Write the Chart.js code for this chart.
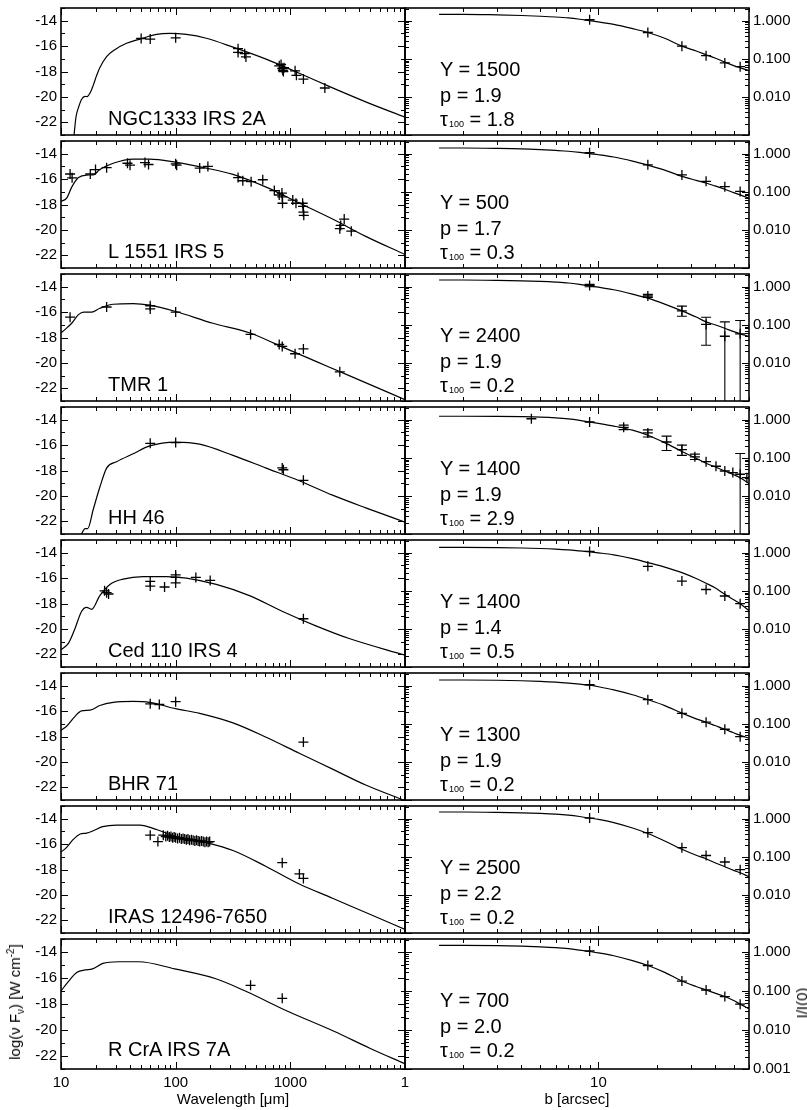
<!DOCTYPE html>
<html><head><meta charset="utf-8">
<script src="https://cdn.jsdelivr.net/npm/chart.js@4.4.1/dist/chart.umd.min.js"></script>
<style>
html,body{margin:0;padding:0;background:#fff;}
#wrap{position:relative;width:807px;height:1110px;overflow:hidden;font-family:"Liberation Sans",Arial,Helvetica,sans-serif;color:#000;}
#wrap canvas{position:absolute;}
.lbl{position:absolute;font-size:20px;line-height:20px;white-space:nowrap;}
.sub{font-size:9px;vertical-align:-1px;margin-left:1px;}
.ytitle{position:absolute;font-size:15px;line-height:18px;white-space:nowrap;transform:translate(-50%,-50%) rotate(-90deg);}
.ytitle sub,.ytitle sup{font-size:10px;}
</style></head><body><div id="wrap"></div>
<script>
// ---------- labels ----------
const sourceNames = ["NGC1333 IRS 2A","L 1551 IRS 5","TMR 1","HH 46","Ced 110 IRS 4","BHR 71","IRAS 12496-7650","R CrA IRS 7A"];
const yParam = ["1500","500","2400","1400","1400","1300","2500","700"];
const pParam = ["1.9","1.7","1.9","1.9","1.4","1.9","2.2","2.0"];
const tauParam = ["1.8","0.3","0.2","2.9","0.5","0.2","0.2","0.2"];

// ---------- SED data (wavelength um, log nuFnu) ----------
const obsLam1 = [50,60,100,350,350,400,410,800,830,850,860,870,880,1100,1130,1300,2000];
const obsF1   = [-15.4,-15.45,-15.35,-16.2,-16.5,-16.6,-16.85,-17.55,-17.45,-17.75,-17.9,-18.0,-17.7,-17.95,-18.3,-18.6,-19.3];
const modLam1 = [13,13.5,14.2,15.1,16.2,16.9,17.9,19.1,20.4,21.8,25,29.5,37.3,48.7,68,89,124,185,316,615,1197,2334,4545,10000];
const modF1   = [-23,-21.6,-20.84,-20.2,-19.96,-19.98,-19.7,-19.09,-18.34,-17.7,-16.83,-16.28,-15.78,-15.45,-15.08,-15.0,-15.08,-15.38,-16.08,-17.03,-18.14,-19.29,-20.39,-21.6];

const obsLam2 = [12,12.5,18,20,25,38,40,54,58,100,102,162,191,350,385,455,575,725,800,845,850,855,1050,1120,1280,1290,1300,1310,2700,2750,2950,3400];
const obsF2   = [-15.6,-15.9,-15.6,-15.25,-15.1,-14.75,-14.9,-14.7,-14.85,-14.8,-14.9,-15.13,-15.0,-15.88,-16.13,-16.2,-16.05,-16.9,-17.25,-17.1,-17.4,-17.9,-17.65,-17.9,-17.9,-18.15,-18.6,-18.85,-19.9,-19.65,-19.15,-20.1];
const modLam2 = [10,11.2,12.4,14.2,16.7,19.1,21.8,28.5,42.6,59.4,101,185,316,615,1197,2334,4545,10000];
const modF2   = [-17.76,-17.5,-16.63,-15.88,-15.68,-15.67,-15.25,-14.75,-14.42,-14.42,-14.68,-15.13,-15.63,-16.63,-17.88,-19.14,-20.51,-21.94];

const obsLam3 = [12,25,60,60,100,450,800,850,1100,1300,2700];
const obsF3   = [-16.4,-15.6,-15.5,-15.75,-16.0,-17.76,-18.55,-18.7,-19.28,-18.9,-20.7];
const modLam3 = [10,10.8,12.4,14.2,15.8,18.5,21.8,28.5,42.6,59.4,100,211,440,857,1670,3260,10000];
const modF3   = [-17.63,-17.38,-16.88,-16.2,-16.0,-16.0,-15.7,-15.38,-15.33,-15.45,-15.95,-16.88,-17.63,-18.76,-19.88,-21.0,-22.9];

const obsLam4 = [60,100,850,870,1300];
const obsF4   = [-15.86,-15.8,-17.8,-17.94,-18.77];
const modLam4 = [15.1,16.2,17.1,19.1,21.8,25,30.5,42.6,59.4,100,162,316,615,1197,2334,4545,10000];
const modF4   = [-23.0,-22.57,-22.57,-21.07,-19.32,-17.81,-17.31,-16.68,-16.06,-15.76,-15.93,-16.81,-17.81,-18.81,-19.94,-20.94,-22.07];

const obsLam5 = [24,25,26,60,60,80,100,100,100,150,200,1300];
const obsF5   = [-17.0,-17.15,-17.25,-16.25,-16.63,-16.7,-15.75,-15.95,-16.38,-15.95,-16.18,-19.2];
const modLam5 = [10,11.6,13.2,15.1,16.7,18.5,21.8,26.7,34.8,52,83,124,226,440,857,1670,3260,10000];
const modF5   = [-21.64,-21.14,-20.0,-18.63,-18.3,-18.46,-17.38,-16.5,-16.08,-15.88,-15.88,-16.0,-16.5,-17.38,-18.63,-19.76,-20.76,-22.07];

const obsLam6 = [60,72,100,1300];
const obsF6   = [-15.43,-15.48,-15.26,-18.44];
const modLam6 = [10,11.2,13.2,15.1,17.9,21.8,28.5,42.6,59.4,100,162,316,615,1197,2334,4545,10000];
const modF6   = [-17.51,-17.19,-16.43,-15.98,-15.93,-15.56,-15.31,-15.23,-15.31,-15.81,-16.18,-16.93,-18.06,-19.32,-20.57,-21.82,-23.05];

const obsLam7 = [60,70,78,82,85,88,91,94,97,100,104,108,112,116,120,124,128,132,137,142,147,152,157,162,168,174,180,186,192,198,850,1200,1300];
const obsF7   = [-15.3,-15.8,-15.3,-15.4,-15.35,-15.45,-15.4,-15.5,-15.45,-15.5,-15.55,-15.5,-15.6,-15.55,-15.6,-15.65,-15.6,-15.7,-15.65,-15.7,-15.75,-15.7,-15.75,-15.8,-15.75,-15.8,-15.85,-15.8,-15.85,-15.8,-17.46,-18.35,-18.7];
const modLam7 = [10,11.2,12.8,14.7,16.7,19.1,23.1,30.5,48.7,69,100,185,316,615,1197,2334,4545,10000];
const modF7   = [-16.63,-16.26,-15.63,-15.2,-15.13,-14.95,-14.62,-14.5,-14.5,-14.87,-15.38,-15.88,-16.5,-17.76,-19.14,-20.26,-21.39,-22.72];

const obsLam8 = [450,850];
const obsF8   = [-16.56,-17.56];
const modLam8 = [10,11.2,13.8,16.2,18.8,23.2,31.5,47.6,98,224,418,948,2400,4930,10000];
const modF8   = [-17.0,-16.43,-15.56,-15.38,-15.3,-14.88,-14.75,-14.75,-15.3,-16.06,-17.06,-18.56,-20.1,-21.4,-22.6];

// ---------- Radial profiles (b arcsec, I/I(0)) ----------
const bObs   = [9,18,27,36,45,54];
const bObsHH = [4.5,9,13.5,18,22.5,27,31.5,36,40.5,45,49.5,54,58.5];
const po1 = [1.06,0.49,0.215,0.121,0.078,0.062];
const po2 = [1.06,0.51,0.277,0.188,0.136,0.102];
const po3 = [1.08,0.57,0.232,0.102,0.050,0.058];
const po4 = [1.06,0.87,0.63,0.45,0.26,0.164,0.106,0.079,0.060,0.045,0.041,0.037,0.030];
const po5 = [1.08,0.44,0.18,0.108,0.073,0.046];
const po6 = [1.06,0.43,0.188,0.11,0.072,0.046];
const po7 = [1.04,0.43,0.174,0.108,0.073,0.046];
const po8 = [1.06,0.45,0.18,0.106,0.072,0.046];
const errLo3 = [1.0,0.52,0.168,0.029,0.0001,0.0001];
const errHi3 = [1.15,0.63,0.31,0.158,0.119,0.13];
const errLo4 = [null,null,0.55,0.35,0.155,0.116,0.09,null,null,null,null,0.0001,null];
const errHi4 = [null,null,0.72,0.54,0.37,0.215,0.125,null,null,null,null,0.13,null];

const bModel = [1.5,2,3,4,5,6,7,8,9,10,12,15,18,22,27,32,36,40,45,50,54,60];
const pm1 = [1.47,1.47,1.42,1.37,1.31,1.25,1.18,1.09,1.0,0.93,0.80,0.62,0.49,0.345,0.215,0.16,0.128,0.105,0.082,0.066,0.058,0.049];
const pm2 = [1.41,1.41,1.38,1.34,1.28,1.22,1.16,1.08,1.0,0.94,0.82,0.64,0.50,0.37,0.255,0.20,0.17,0.143,0.117,0.095,0.083,0.068];
const pm3 = [1.5,1.5,1.47,1.43,1.38,1.32,1.25,1.15,1.05,0.97,0.83,0.64,0.50,0.35,0.232,0.16,0.119,0.10,0.081,0.066,0.058,0.050];
const pm4 = [1.23,1.23,1.22,1.20,1.17,1.12,1.05,0.96,0.87,0.80,0.68,0.53,0.39,0.25,0.147,0.097,0.072,0.058,0.045,0.036,0.030,0.021];
const pm5 = [1.38,1.38,1.36,1.33,1.29,1.24,1.18,1.11,1.05,0.99,0.88,0.70,0.55,0.42,0.30,0.21,0.158,0.12,0.081,0.058,0.046,0.030];
const pm6 = [1.41,1.41,1.39,1.35,1.30,1.24,1.17,1.10,1.03,0.94,0.78,0.58,0.43,0.30,0.19,0.135,0.11,0.09,0.072,0.058,0.05,0.042];
const pm7 = [1.5,1.5,1.47,1.43,1.38,1.32,1.24,1.14,1.04,0.96,0.79,0.57,0.41,0.26,0.158,0.11,0.089,0.07,0.055,0.044,0.038,0.030];
const pm8 = [1.47,1.47,1.45,1.41,1.36,1.30,1.22,1.12,1.03,0.95,0.80,0.60,0.45,0.30,0.18,0.13,0.106,0.088,0.072,0.057,0.046,0.035];

// ---------- tick values ----------
const sedXLabels = [10,100,1000];
const sedXMajor = [10,100,1000,10000];
const sedXMinor = [20,30,40,50,60,70,80,90,200,300,400,500,600,700,800,900,2000,3000,4000,5000,6000,7000,8000,9000];
const sedYLabels = [-22,-20,-18,-16,-14];
const sedYMinor = [-23,-21,-19,-17,-15,-13];
const profXLabels = [1,10];
const profXMinor = [2,3,4,5,6,7,8,9,20,30,40,50,60];
const profYLabels = [0.01,0.1,1];
const profYLabelsBottom = [0.001,0.01,0.1,1];
const profYMajor = [0.001,0.01,0.1,1];
const profYMinor = [0.002,0.003,0.004,0.005,0.006,0.007,0.008,0.009,0.02,0.03,0.04,0.05,0.06,0.07,0.08,0.09,0.2,0.3,0.4,0.5,0.6,0.7,0.8,0.9,2];

// ---------- assemble ----------
const obsLam = [obsLam1,obsLam2,obsLam3,obsLam4,obsLam5,obsLam6,obsLam7,obsLam8];
const obsF = [obsF1,obsF2,obsF3,obsF4,obsF5,obsF6,obsF7,obsF8];
const modLam = [modLam1,modLam2,modLam3,modLam4,modLam5,modLam6,modLam7,modLam8];
const modF = [modF1,modF2,modF3,modF4,modF5,modF6,modF7,modF8];
const profB = [bObs,bObs,bObs,bObsHH,bObs,bObs,bObs,bObs];
const profO = [po1,po2,po3,po4,po5,po6,po7,po8];
const profM = [pm1,pm2,pm3,pm4,pm5,pm6,pm7,pm8];
const profErr = [null,null,{lo:errLo3,hi:errHi3},{lo:errLo4,hi:errHi4},null,null,null,null];

Chart.defaults.font.family = '"Liberation Sans", Arial, Helvetica, sans-serif';
Chart.defaults.font.size = 15;
Chart.defaults.color = '#000';

const zip = (xs, ys) => xs.map((x, k) => ({x, y: ys[k]}));

const frameTicks = {
  id: 'frameTicks',
  afterDatasetsDraw(chart, args, o) {
    const {ctx, chartArea: a, scales: {x, y}} = chart;
    ctx.save();
    ctx.strokeStyle = '#000';
    ctx.lineWidth = 1;
    ctx.beginPath();
    const xt = (vals, len) => vals.forEach(v => {
      const p = Math.round(x.getPixelForValue(v)) + 0.5;
      if (p < a.left - 1 || p > a.right + 1) return;
      ctx.moveTo(p, a.bottom); ctx.lineTo(p, a.bottom - len);
      ctx.moveTo(p, a.top); ctx.lineTo(p, a.top + len);
    });
    const yt = (vals, len) => vals.forEach(v => {
      const p = Math.round(y.getPixelForValue(v)) + 0.5;
      if (p < a.top - 1 || p > a.bottom + 1) return;
      ctx.moveTo(a.left, p); ctx.lineTo(a.left + len, p);
      ctx.moveTo(a.right, p); ctx.lineTo(a.right - len, p);
    });
    xt(o.xMaj, 7); xt(o.xMin, 4); yt(o.yMaj, 7); yt(o.yMin, 4);
    ctx.stroke();
    ctx.lineWidth = 1.6;
    ctx.strokeRect(a.left, a.top, a.right - a.left, a.bottom - a.top);
    ctx.restore();
  }
};

const errBars = {
  id: 'errBars',
  afterDatasetsDraw(chart, args, o) {
    if (!o || !o.b) return;
    const {ctx, chartArea: a, scales: {x, y}} = chart;
    ctx.save();
    ctx.beginPath(); ctx.rect(a.left, a.top, a.right - a.left, a.bottom - a.top); ctx.clip();
    ctx.strokeStyle = '#000'; ctx.lineWidth = 1.1;
    ctx.beginPath();
    o.b.forEach((b, k) => {
      if (o.lo[k] == null) return;
      const px = x.getPixelForValue(b);
      const y1 = Math.min(y.getPixelForValue(o.lo[k]), a.bottom + 5);
      const y2 = y.getPixelForValue(o.hi[k]);
      ctx.moveTo(px, y1); ctx.lineTo(px, y2);
      ctx.moveTo(px - 5, y1); ctx.lineTo(px + 5, y1);
      ctx.moveTo(px - 5, y2); ctx.lineTo(px + 5, y2);
    });
    ctx.stroke();
    ctx.restore();
  }
};

const wrap = document.getElementById('wrap');
function mkCanvas(left, top, w, h) {
  const c = document.createElement('canvas');
  c.width = w; c.height = h;
  c.style.left = left + 'px'; c.style.top = top + 'px';
  c.style.width = w + 'px'; c.style.height = h + 'px';
  wrap.appendChild(c);
  return c;
}
function addDiv(cls, left, top, html) {
  const d = document.createElement('div');
  d.className = cls; d.style.left = left + 'px'; d.style.top = top + 'px';
  d.innerHTML = html; wrap.appendChild(d);
}

const PANEL_H = 133;
const T = i => 5 + PANEL_H * i;

for (let i = 0; i < 8; i++) {
  const bottom = i === 7;
  const h = bottom ? 10 + PANEL_H + 41 : 10 + PANEL_H + 10;

  // ---- left: SED ----
  new Chart(mkCanvas(0, T(i) - 10, 415, h), {
    type: 'scatter',
    data: { datasets: [
      { data: zip(modLam[i], modF[i]), showLine: true, borderColor: '#000', borderWidth: 1.2,
        pointRadius: 0, fill: false, cubicInterpolationMode: 'monotone' },
      { data: zip(obsLam[i], obsF[i]), pointStyle: 'cross', pointRadius: 5, pointBorderWidth: 1.3,
        borderColor: '#000', backgroundColor: '#000' }
    ]},
    options: {
      responsive: false, animation: false, events: [],
      layout: { padding: { left: 0, right: 10, top: 10, bottom: bottom ? 0 : 10 } },
      plugins: { legend: { display: false }, tooltip: { enabled: false },
        frameTicks: { xMaj: sedXMajor, xMin: sedXMinor, yMaj: sedYLabels, yMin: sedYMinor } },
      scales: {
        x: { type: 'logarithmic', min: 10, max: 10000, display: bottom,
          grid: { display: false, drawTicks: false }, border: { display: false },
          afterBuildTicks: s => { s.ticks = sedXLabels.map(v => ({ value: v })); },
          ticks: { autoSkip: false, maxRotation: 0, padding: 5, color: '#000', font: { size: 15 }, callback: v => String(v) },
          title: { display: bottom, text: 'Wavelength [\u03bcm]', color: '#000', font: { size: 15 }, padding: { top: 0, bottom: 1 } },
          afterFit: bottom ? (s => { s.height = 41; }) : undefined },
        y: { type: 'linear', min: -23, max: -13, position: 'left',
          grid: { display: false, drawTicks: false }, border: { display: false },
          afterBuildTicks: s => { s.ticks = sedYLabels.map(v => ({ value: v })); },
          ticks: { padding: 4, color: '#000', font: { size: 15 }, callback: v => String(v) },
          afterFit: s => { s.width = 61; } }
      }
    },
    plugins: [frameTicks]
  });

  // ---- right: profile ----
  const err = profErr[i];
  const yLab = bottom ? profYLabelsBottom : profYLabels;
  new Chart(mkCanvas(395, T(i) - 10, 412, h), {
    type: 'scatter',
    data: { datasets: [
      { data: zip(bModel, profM[i]), showLine: true, borderColor: '#000', borderWidth: 1.2,
        pointRadius: 0, fill: false, cubicInterpolationMode: 'monotone' },
      { data: zip(profB[i], profO[i]), pointStyle: 'cross', pointRadius: 5, pointBorderWidth: 1.3,
        borderColor: '#000', backgroundColor: '#000' }
    ]},
    options: {
      responsive: false, animation: false, events: [],
      layout: { padding: { left: 10, right: 0, top: 10, bottom: bottom ? 0 : 10 } },
      plugins: { legend: { display: false }, tooltip: { enabled: false },
        frameTicks: { xMaj: profXLabels, xMin: profXMinor, yMaj: profYMajor, yMin: profYMinor },
        errBars: err ? { b: profB[i], lo: err.lo, hi: err.hi } : {} },
      scales: {
        x: { type: 'logarithmic', min: 1, max: 60, display: bottom,
          grid: { display: false, drawTicks: false }, border: { display: false },
          afterBuildTicks: s => { s.ticks = profXLabels.map(v => ({ value: v })); },
          ticks: { autoSkip: false, maxRotation: 0, padding: 5, color: '#000', font: { size: 15 }, callback: v => String(v) },
          title: { display: bottom, text: 'b [arcsec]', color: '#000', font: { size: 15 }, padding: { top: 0, bottom: 1 } },
          afterFit: bottom ? (s => { s.height = 41; }) : undefined },
        y: { type: 'logarithmic', min: 0.001, max: 2.154, position: 'right',
          grid: { display: false, drawTicks: false }, border: { display: false },
          afterBuildTicks: s => { s.ticks = yLab.map(v => ({ value: v })); },
          ticks: { padding: 4, color: '#000', font: { size: 15 }, callback: v => Number(v).toFixed(3) },
          afterFit: s => { s.width = 58; } }
      }
    },
    plugins: [errBars, frameTicks]
  });

  // ---- annotations ----
  addDiv('lbl', 108, T(i) + 103, sourceNames[i]);
  addDiv('lbl', 440, T(i) + 54, 'Y = ' + yParam[i]);
  addDiv('lbl', 440, T(i) + 80, 'p = ' + pParam[i]);
  addDiv('lbl', 440, T(i) + 104, '\u03c4<span class="sub">100</span> = ' + tauParam[i]);
}

addDiv('ytitle', 16, 1002, 'log(\u03bd F<sub>\u03bd</sub>) [W cm<sup>-2</sup>]');
addDiv('ytitle', 802, 1003, 'I/I(0)');
</script>
</body></html>
